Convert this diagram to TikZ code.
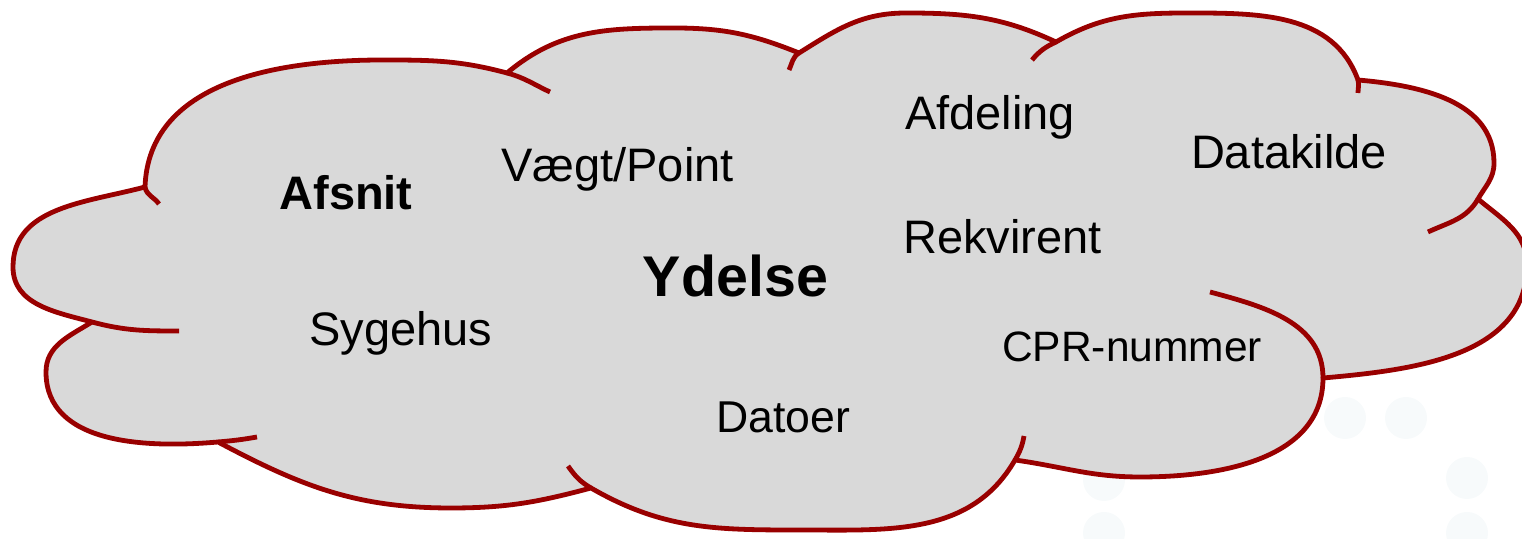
\documentclass[tikz,border=0pt]{standalone}
\usepackage{fontspec}
\setmainfont{Liberation Sans}
\usepackage{tikz}
\definecolor{cloudred}{RGB}{153,0,0}
\definecolor{cloudgray}{RGB}{217,217,217}
\definecolor{dotgray}{RGB}{247,250,251}

\begin{document}
\begin{tikzpicture}[line cap=butt,line join=round,x=0.5pt,y=0.5pt,
        rim/.style={color=cloudred,line width=2.4pt},
        lbl/.style={anchor=base,inner sep=0pt,font=\fontsize{23.5}{28}\selectfont},
        lblbold/.style={anchor=base,inner sep=0pt,font=\fontsize{23.5}{28}\selectfont\bfseries}]
        \clip(0,0) rectangle (1522,539);
        % faint dots behind the cloud
        \fill [color=dotgray] (1345,121) circle (10.5pt);
        \fill [color=dotgray] (1406,121) circle (10.5pt);
        \fill [color=dotgray] (1467,61) circle (10.5pt);
        \fill [color=dotgray] (1104,59) circle (10.5pt);
        \fill [color=dotgray] (1104,6) circle (10.5pt);
        \fill [color=dotgray] (1467,6) circle (10.5pt);
        % cloud outline
        \draw [rim,fill=cloudgray] (145,352) to[out=88,in=180] (383,479) to[out=0,in=165] (507,466)
            to[out=40,in=180] (674,511) to[out=0,in=158] (799,486)
            to[out=32,in=180] (906,526) to[out=0,in=155] (1056,497)
            to[out=30,in=180] (1188,526) to[out=0,in=110] (1358,459)
            to[out=-5,in=90] (1494,376) to[out=-90,in=60] (1478,340)
            to[out=-40,in=90] (1527,274) to[out=-90,in=5] (1323,161)
            to[out=-90,in=0] (1140,62) to[out=180,in=-8] (1015,79)
            to[out=240,in=0] (800,9) to[out=180,in=-30] (591,51)
            to[out=195,in=0] (451,31) to[out=180,in=-28] (218,97)
            to[out=185,in=-90] (46,167) to[out=90,in=212] (92,217)
            to[out=165,in=-90] (13,272) to[out=90,in=195] (145,352) -- cycle;
        % inner hooks
        \draw [rim] (145,352) to[out=-80,in=125] (159,335);
        \draw [rim] (507,466) to[out=-15,in=155] (550,447);
        \draw [rim] (799,486) to[out=212,in=65] (789,469);
        \draw [rim] (1056,497) to[out=205,in=50] (1032,479);
        \draw [rim] (1358,459) to[out=-75,in=90] (1358,446);
        \draw [rim] (1478,340) to[out=240,in=25] (1428,307);
        \draw [rim] (1323,161) to[out=90,in=-15] (1210,247);
        \draw [rim] (1015,79) to[out=60,in=-100] (1024,103);
        \draw [rim] (591,51) to[out=150,in=-55] (568,73);
        \draw [rim] (218,97) to[out=5,in=190] (257,102);
        \draw [rim] (92,217) to[out=-15,in=180] (179,208);
        % labels
        \draw (346,329) node[lblbold] (afsnit) {Afsnit};
        \draw (617.5,357) node[lbl] (vaegt) {Vægt/Point};
        \draw (990,409) node[lbl] (afdeling) {Afdeling};
        \draw (1289,370) node[lbl] (datakilde) {Datakilde};
        \draw (1002.5,285) node[lbl] (rekvirent) {Rekvirent};
        \draw (735.5,242) node[lblbold,font=\fontsize{28.7}{34}\selectfont\bfseries] (ydelse) {Ydelse};
        \draw (401,193) node[lbl] (sygehus) {Sygehus};
        \draw (1132,177) node[lbl,font=\fontsize{21.25}{26}\selectfont] (cpr) {CPR-nummer};
        \draw (783,106) node[lbl,font=\fontsize{22.3}{27}\selectfont] (datoer) {Datoer};
\end{tikzpicture}
\end{document}
